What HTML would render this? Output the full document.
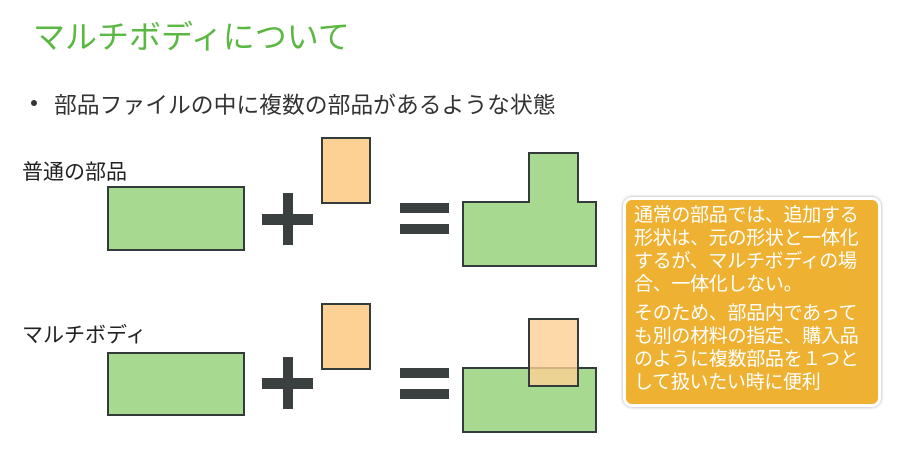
<!DOCTYPE html>
<html><head><meta charset="utf-8"><style>
body{margin:0;width:900px;height:450px;background:#fff;position:relative;overflow:hidden;font-family:"Liberation Sans","Noto Sans CJK JP",sans-serif}
.t{position:absolute;white-space:nowrap}
.box{position:absolute;left:623px;top:197px;width:244px;height:200px;background:#EFB131;border:3px solid #fff;border-radius:9px;box-shadow:0 0 3px rgba(0,0,0,.35);color:#fff;font-size:19px;line-height:23px;padding:4px 0 0 8px;box-sizing:content-box;letter-spacing:-0.3px}
</style></head><body>
<div class="t" style="left:33px;top:12px;font-size:32px;color:#5BB843">マルチボディについて</div>
<div style="position:absolute;left:31px;top:100px;width:6px;height:6px;border-radius:50%;background:#333"></div>
<div class="t" style="left:54px;top:87px;font-size:22.8px;color:#333">部品ファイルの中に複数の部品があるような状態</div>
<div class="t" style="left:22px;top:156px;font-size:21px;color:#222">普通の部品</div>
<div class="t" style="left:22px;top:319px;font-size:21px;color:#222">マルチボディ</div>
<svg width="900" height="450" style="position:absolute;left:0;top:0">
<g stroke="#333b3b" stroke-width="2">
<rect x="108" y="187" width="136" height="63" fill="#A8D990"/>
<rect x="322" y="138" width="48" height="65" fill="#FDD093"/>
<path d="M529 153H578V202H596V266H463V202H529Z" fill="#A8D990"/>
<rect x="108" y="353" width="136" height="62" fill="#A8D990"/>
<rect x="322" y="304" width="48" height="65" fill="#FDD093"/>
<rect x="463" y="368" width="133" height="64" fill="#A8D990"/>
<rect x="529" y="319" width="49" height="67" fill="#FDD093" fill-opacity="0.8"/>
</g>
<g fill="#3a4040">
<rect x="262" y="214" width="51" height="11"/><rect x="283" y="193" width="10" height="52"/>
<rect x="400" y="203" width="49" height="10"/><rect x="400" y="224" width="49" height="10"/>
<rect x="262" y="378" width="51" height="11"/><rect x="283" y="357" width="10" height="52"/>
<rect x="400" y="368" width="49" height="10"/><rect x="400" y="389" width="49" height="10"/>
</g>
</svg>
<div class="box">通常の部品では、追加する<br>形状は、元の形状と一体化<br>するが、マルチボディの場<br>合、一体化しない。<div style="height:6px"></div>そのため、部品内であって<br>も別の材料の指定、購入品<br>のように複数部品を１つと<br>して扱いたい時に便利</div>
</body></html>
